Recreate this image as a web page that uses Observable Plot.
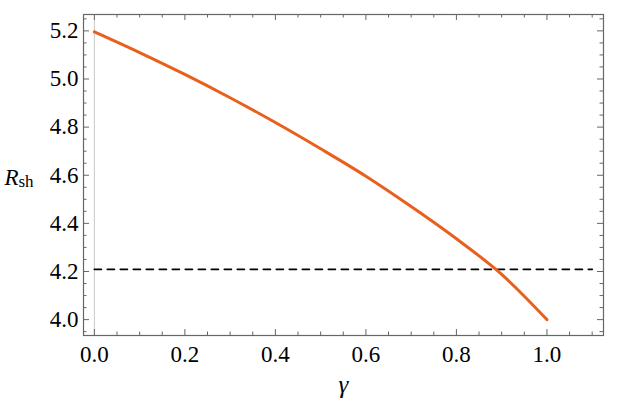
<!DOCTYPE html>
<html>
<head>
<meta charset="utf-8">
<script src="https://cdn.jsdelivr.net/npm/d3@7"></script>
<script src="https://cdn.jsdelivr.net/npm/@observablehq/plot@0.6"></script>
<style>
  html, body { margin: 0; padding: 0; background: #fff; }
  svg { display: block; }
</style>
</head>
<body>
<div id="chart"></div>
<script>
// Data
const gamma = [0, 0.1, 0.2, 0.3, 0.4, 0.5, 0.6, 0.7, 0.8, 0.9, 1.0];
const rsh   = [5.196, 5.11, 5.019, 4.922, 4.819, 4.71, 4.596, 4.47, 4.336, 4.188, 4.0];
const refY = 4.209;           // dashed reference level
const refX = [0, 1.1];        // extent of dashed line
const xMajor = [0, 0.2, 0.4, 0.6, 0.8, 1.0];
const xMinor = [0.05, 0.1, 0.15, 0.25, 0.3, 0.35, 0.45, 0.5, 0.55, 0.65, 0.7, 0.75, 0.85, 0.9, 0.95, 1.05, 1.1];
const yMajor = [4.0, 4.2, 4.4, 4.6, 4.8, 5.0, 5.2];
const yMinor = [3.95, 4.05, 4.1, 4.15, 4.25, 4.3, 4.35, 4.45, 4.5, 4.55, 4.65, 4.7, 4.75, 4.85, 4.9, 4.95, 5.05, 5.1, 5.15, 5.25];
const xDomain = [-0.024, 1.125];
const yDomain = [3.934, 5.268];

const W = 618, H = 413;
const mL = 83, mR = 15, mT = 14, mB = 78;
const fw = W - mL - mR, fh = H - mT - mB;
const frameColor = "#666";
const font = "Liberation Serif";
const major = 6, minor = 3.5;

const curve = gamma.map((g, i) => ({g, r: rsh[i]}));
const dashed = refX.map(x => ({x, y: refY}));

const tickXs = (vals, len, side) => Plot.tickX(vals, {x: d => d, stroke: frameColor, strokeWidth: 1,
  ...(side === "bottom" ? {insetTop: fh - len} : {insetBottom: fh - len})});
const tickYs = (vals, len, side) => Plot.tickY(vals, {y: d => d, stroke: frameColor, strokeWidth: 1,
  ...(side === "left" ? {insetRight: fw - len} : {insetLeft: fw - len})});

const chart = Plot.plot({
  width: W, height: H,
  marginLeft: mL, marginRight: mR, marginTop: mT, marginBottom: mB,
  style: {background: "#fff", color: "#000", fontFamily: font},
  x: {domain: xDomain},
  y: {domain: yDomain},
  marks: [
    Plot.ruleX([0], {stroke: "#c8c8c8", strokeWidth: 1}),
    Plot.line(dashed, {x: "x", y: "y", stroke: "#000", strokeWidth: 1.8, strokeDasharray: "7,6"}),
    Plot.line(curve, {x: "g", y: "r", stroke: "#E8601C", strokeWidth: 3, curve: "monotone-x"}),
    tickXs(xMajor, major, "bottom"), tickXs(xMinor, minor, "bottom"),
    tickXs(xMajor, major, "top"), tickXs(xMinor, minor, "top"),
    tickYs(yMajor, major, "left"), tickYs(yMinor, minor, "left"),
    tickYs(yMajor, major, "right"), tickYs(yMinor, minor, "right"),
    Plot.frame({stroke: frameColor, strokeWidth: 1.2}),
    Plot.axisX(xMajor, {tickSize: 0, tickPadding: 10, tickFormat: d3.format(".1f"), fontSize: 23, label: null, fill: "#000"}),
    Plot.axisY(yMajor, {tickSize: 0, tickPadding: 5, tickFormat: d3.format(".1f"), fontSize: 23, label: null, fill: "#000"}),
    Plot.text(["γ"], {frameAnchor: "bottom", dy: 57, text: d => d, fontSize: 25, fontStyle: "italic", fill: "#000"}),
    Plot.text(["R"], {frameAnchor: "left", dx: -79, dy: 3, text: d => d, textAnchor: "start", fontSize: 23, fontStyle: "italic", fill: "#000"}),
    Plot.text(["sh"], {frameAnchor: "left", dx: -65, dy: 7, text: d => d, textAnchor: "start", fontSize: 17, fill: "#000"})
  ]
});
document.getElementById("chart").appendChild(chart);
</script>
</body>
</html>
